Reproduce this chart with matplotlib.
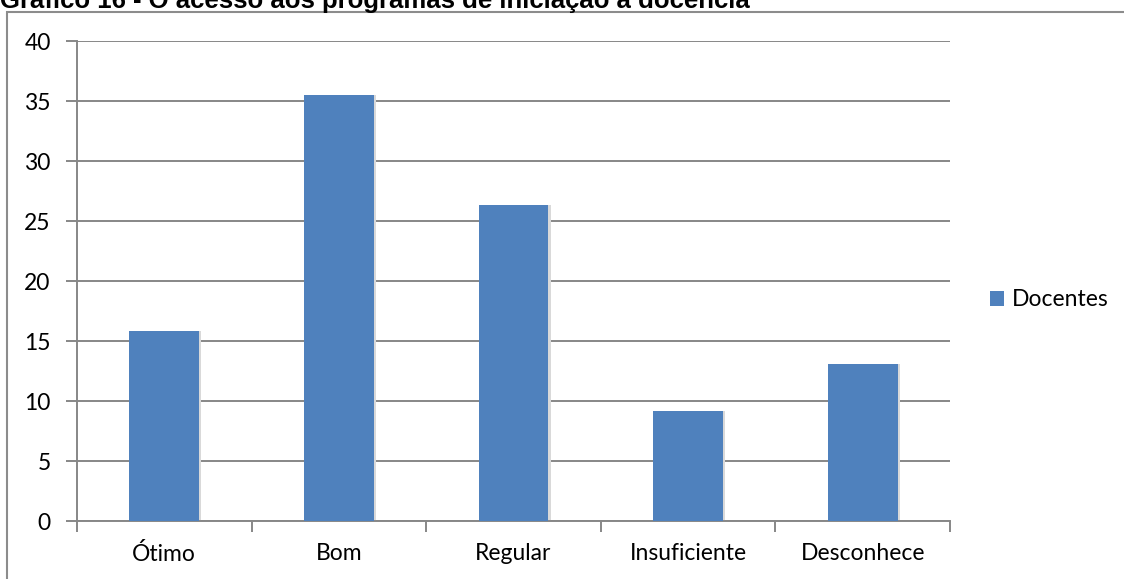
import matplotlib
matplotlib.use("Agg")
import matplotlib.pyplot as plt
from matplotlib.patches import Rectangle, Patch

categories = ["Ótimo", "Bom", "Regular", "Insuficiente", "Desconhece"]
docentes = [15.8, 35.5, 26.3, 9.2, 13.1]
yticks = [0, 5, 10, 15, 20, 25, 30, 35, 40]
series_name = "Docentes"
title = "Gráfico 16 - O acesso aos programas de iniciação à docência"

W, H = 1124, 579
fig = plt.figure(figsize=(W / 100, H / 100), dpi=100)
fig.patch.set_facecolor("white")

# outer chart border (partially cut by the crop)
fig.patches.append(Rectangle((7 / W, -0.1), 1.2, 1.1 - 12 / H,
                             transform=fig.transFigure, fill=False,
                             edgecolor="#8c8c8c", linewidth=1.5, zorder=0))

ax = fig.add_axes([77 / W, 1 - 521 / H, (950 - 77) / W, (521 - 41) / H])
x = list(range(len(categories)))
color = "#4F81BD"
# subtle shadow
ax.bar([i + 0.012 for i in x], docentes, width=0.4, color="#d9d9d9", zorder=2,
       linewidth=0)
ax.bar(x, docentes, width=0.4, color=color, zorder=3, linewidth=0)

FS = 16.5
ax.set_xlim(-0.5, len(categories) - 0.5)
ax.set_ylim(0, 40)
ax.set_yticks(yticks)
ax.set_yticklabels([str(t) for t in yticks], fontsize=FS, family="Lato")
ax.yaxis.grid(True, color="#878787", linewidth=1.4, zorder=1)
ax.set_axisbelow(True)
ax.tick_params(axis="y", length=8, width=1.4, color="#878787", pad=11)

ax.set_xticks(x)
ax.set_xticklabels(categories, fontsize=FS, family="Lato")
ax.set_xticks([i + 0.5 for i in x[:-1]] + [-0.5, len(categories) - 0.5], minor=True)
ax.tick_params(axis="x", which="major", length=0, pad=16)
ax.tick_params(axis="x", which="minor", length=8, width=1.4, color="#878787")

for s in ["top", "right"]:
    ax.spines[s].set_visible(False)
for s in ["left", "bottom"]:
    ax.spines[s].set_color("#878787")
    ax.spines[s].set_linewidth(1.4)

leg = fig.legend(handles=[Patch(facecolor=color, label=series_name)],
                 loc="center left", bbox_to_anchor=(990 / W, 1 - 300 / H),
                 frameon=False, prop={"family": "Lato", "size": 16.5},
                 borderpad=0, borderaxespad=0,
                 handlelength=0.6, handleheight=0.6, handletextpad=0.35)

fig.text(0.0, 1 - 8 / H, title, fontsize=18.5, fontweight="bold",
         family="Liberation Sans", ha="left", va="baseline")

fig.savefig("out.png", dpi=100)
